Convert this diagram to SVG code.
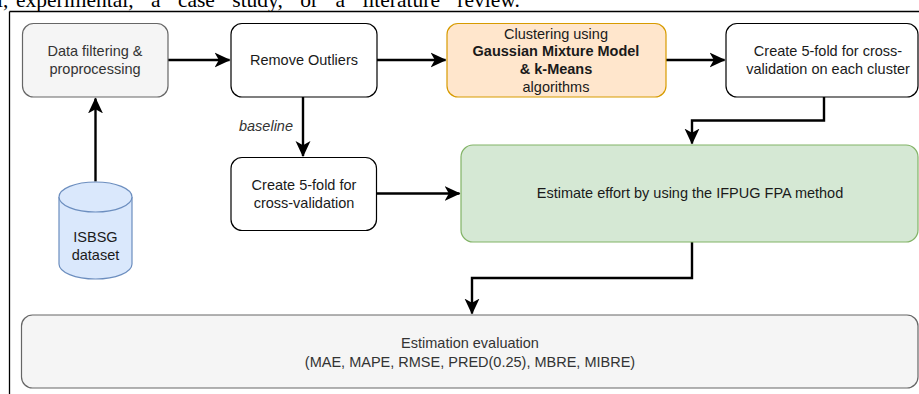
<svg xmlns="http://www.w3.org/2000/svg" width="919" height="394" viewBox="0 0 919 394">
<style>
  text { font-family: "Liberation Sans", Arial, sans-serif; font-size: 14.5px; fill: #1a1a1a; text-anchor: middle; }
  .muted { fill: #333333; }
  .bold { font-weight: bold; }
  .box { stroke-width: 1.2; }
  .plain { fill: #ffffff; stroke: #000000; }
  .gray { fill: #f5f5f5; stroke: #666666; }
  .orange { fill: #ffe6cc; stroke: #d79b00; }
  .green { fill: #d5e8d4; stroke: #82b366; }
  .blue { fill: #dae8fc; stroke: #6c8ebf; }
  .conn { fill: none; stroke: #000000; stroke-width: 2.4; marker-end: url(#arrow); }
  .caption { font-family: "Liberation Serif", "Times New Roman", serif; font-size: 21.5px; fill: #000; text-anchor: start; word-spacing: 12px; }
</style>
<defs>
  <marker id="arrow" markerUnits="userSpaceOnUse" markerWidth="16" markerHeight="16" viewBox="0 0 15 14" refX="14" refY="7" orient="auto">
    <path d="M0,0 L15,7 L0,14 L4,7 Z" fill="#000000"/>
  </marker>
</defs>
<rect x="0" y="0" width="919" height="394" fill="#ffffff"/>
<g id="page-frame">
  <text class="caption" y="7"><tspan x="-3">l,</tspan><tspan x="16">experimental, a case study, or a literature review.</tspan></text>
  <line x1="9.5" y1="11.5" x2="919" y2="11.5" stroke="#000" stroke-width="1.3"/>
  <line x1="9.5" y1="11.5" x2="9.5" y2="394" stroke="#000" stroke-width="1.3"/>
</g>
<g id="connectors">
  <path class="conn" d="M168,60 L229.5,60"/>
  <path class="conn" d="M377,60 L445.5,60"/>
  <path class="conn" d="M666,60 L724.5,60"/>
  <path class="conn" d="M95.5,181.5 L95.5,98.5"/>
  <path class="conn" d="M303,97 L303,156"/>
  <path class="conn" d="M376.5,193.5 L459.5,193.5"/>
  <path class="conn" d="M824,97 L824,120.5 L692,120.5 L692,143.5"/>
  <path class="conn" d="M692,242 L692,278 L472,278 L472,313.5"/>
  <text class="muted" x="293" y="131" style="font-style:italic;text-anchor:end">baseline</text>
</g>
<g id="data-filtering">
  <rect class="box gray" x="22.5" y="23.5" width="145.5" height="73.5" rx="11"/>
  <text class="muted" x="95" y="56">Data filtering &amp;</text>
  <text class="muted" x="95" y="74">proprocessing</text>
</g>
<g id="remove-outliers">
  <rect class="box plain" x="231" y="23.5" width="146" height="73.5" rx="11"/>
  <text x="304" y="65">Remove Outliers</text>
</g>
<g id="clustering">
  <rect class="box orange" x="447" y="23.5" width="219" height="73.5" rx="11"/>
  <text x="556" y="38.5">Clustering using</text>
  <text class="bold" x="556" y="56">Gaussian Mixture Model</text>
  <text class="bold" x="556" y="74">&amp; k-Means</text>
  <text x="556" y="91.5">algorithms</text>
</g>
<g id="cluster-folds">
  <rect class="box plain" x="726" y="23.5" width="192" height="73.5" rx="11"/>
  <text x="828" y="56">Create 5-fold for cross-</text>
  <text x="828" y="74">validation on each cluster</text>
</g>
<g id="isbsg-dataset">
  <path class="box blue" d="M59,197 A36.5,15 0 0 1 132,197 L132,264 A36.5,15 0 0 1 59,264 Z"/>
  <path class="box blue" d="M59,197 A36.5,15 0 0 0 132,197" fill="none"/>
  <text x="95.5" y="242">ISBSG</text>
  <text x="95.5" y="260">dataset</text>
</g>
<g id="baseline-folds">
  <rect class="box plain" x="231" y="157.5" width="145.5" height="73" rx="11"/>
  <text x="304" y="190">Create 5-fold for</text>
  <text x="304" y="208">cross-validation</text>
</g>
<g id="estimate-effort">
  <rect class="box green" x="461" y="145" width="457" height="97" rx="12"/>
  <text x="690" y="198">Estimate effort by using the IFPUG FPA method</text>
</g>
<g id="evaluation">
  <rect class="box gray" x="21.5" y="315" width="896.5" height="73" rx="11"/>
  <text class="muted" x="470" y="348">Estimation evaluation</text>
  <text class="muted" x="470" y="366.5">(MAE, MAPE, RMSE, PRED(0.25), MBRE, MIBRE)</text>
</g>
</svg>
